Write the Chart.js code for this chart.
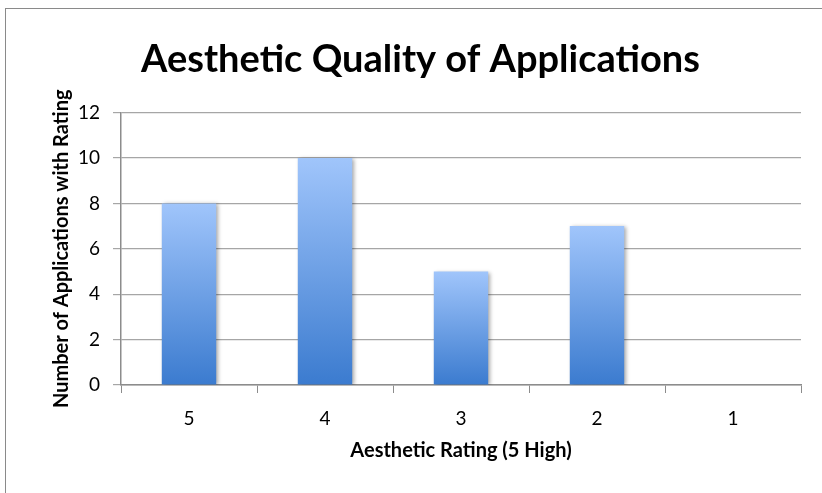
<!DOCTYPE html>
<html>
<head>
<meta charset="utf-8">
<script src="https://cdn.jsdelivr.net/npm/chart.js@4/dist/chart.umd.min.js"></script>
<style>
  html, body { margin: 0; padding: 0; background: #fff; }
  #wrap { position: relative; width: 822px; height: 493px; overflow: hidden; }
  #frame { position: absolute; left: 5px; top: 8px; width: 900px; height: 600px; border: 1.5px solid #8a8a8a; box-sizing: border-box; }
  #grafico { position: absolute; left: 0; top: 0; }
</style>
</head>
<body>
<div id="wrap">
  <div id="frame"></div>
  <canvas id="grafico" width="822" height="493"></canvas>
</div>
<script>
// Datos del gráfico
const categorias = ['5', '4', '3', '2', '1'];
const valores = [8, 10, 5, 7, 0];
const marcasY = [0, 2, 4, 6, 8, 10, 12];

const COLORES = {
    ARRIBA: '#a0c5fb',
    ABAJO: '#3b7bcf',
    REJILLA: '#a6a6a6',
    EJE: '#8c8c8c',
    TEXTO: '#000000'
};
const FUENTE = "Lato, 'Open Sans', sans-serif";

// Degradado por barra (de arriba claro a abajo oscuro)
function colorBarra(context) {
    const chart = context.chart;
    if (!chart.chartArea || !chart.scales.y) return COLORES.ABAJO;
    const v = context.raw || 0;
    const yTop = chart.scales.y.getPixelForValue(v);
    const yBase = chart.scales.y.getPixelForValue(0);
    if (!isFinite(yTop) || yTop === yBase) return COLORES.ABAJO;
    const g = chart.ctx.createLinearGradient(0, yTop, 0, yBase);
    g.addColorStop(0, COLORES.ARRIBA);
    g.addColorStop(1, COLORES.ABAJO);
    return g;
}

// Sombra suave bajo las barras
const sombra = {
    id: 'sombra',
    beforeDatasetsDraw(chart) {
        const ctx = chart.ctx;
        ctx.save();
        ctx.shadowColor = 'rgba(0,0,0,0.35)';
        ctx.shadowBlur = 4;
        ctx.shadowOffsetX = 2;
        ctx.shadowOffsetY = 1;
    },
    afterDatasetsDraw(chart) {
        chart.ctx.restore();
    }
};

new Chart(document.getElementById('grafico').getContext('2d'), {
    type: 'bar',
    data: {
        labels: categorias,
        datasets: [{
            label: 'Aplicaciones',
            data: valores,
            backgroundColor: colorBarra,
            borderWidth: 0,
            categoryPercentage: 1.0,
            barPercentage: 0.4
        }]
    },
    options: {
        responsive: false,
        animation: false,
        layout: { padding: { left: 40, right: 21, top: 0, bottom: 30 } },
        plugins: {
            legend: { display: false },
            tooltip: { enabled: false },
            title: {
                display: true,
                text: 'Aesthetic Quality of Applications',
                color: COLORES.TEXTO,
                font: { family: FUENTE, size: 38, weight: 'bold' },
                padding: { top: 37, bottom: 30 }
            }
        },
        scales: {
            x: {
                afterFit(scale) { scale.height = 78; },
                border: { display: true, color: COLORES.EJE, width: 1.5 },
                grid: {
                    display: true,
                    offset: true,
                    drawOnChartArea: false,
                    drawTicks: true,
                    tickLength: 8,
                    color: COLORES.EJE
                },
                ticks: {
                    color: COLORES.TEXTO,
                    padding: 14,
                    font: { family: FUENTE, size: 19 }
                },
                title: {
                    display: true,
                    text: 'Aesthetic Rating (5 High)',
                    color: COLORES.TEXTO,
                    font: { family: FUENTE, size: 20, weight: 'bold' },
                    padding: { top: 4, bottom: 0 }
                }
            },
            y: {
                min: 0,
                max: 12,
                afterFit(scale) { scale.width = 81; },
                afterBuildTicks(scale) { scale.ticks = marcasY.map(v => ({ value: v })); },
                border: { display: true, color: COLORES.EJE, width: 1.5 },
                grid: {
                    color: COLORES.REJILLA,
                    lineWidth: 1.2,
                    drawTicks: true,
                    tickLength: 8
                },
                ticks: {
                    color: COLORES.TEXTO,
                    padding: 13,
                    font: { family: FUENTE, size: 19 }
                },
                title: {
                    display: true,
                    text: 'Number of Applications with Rating',
                    color: COLORES.TEXTO,
                    font: { family: FUENTE, size: 20, weight: 'bold' },
                    padding: { top: 10, bottom: 0 }
                }
            }
        }
    },
    plugins: [sombra]
});
</script>
</body>
</html>
